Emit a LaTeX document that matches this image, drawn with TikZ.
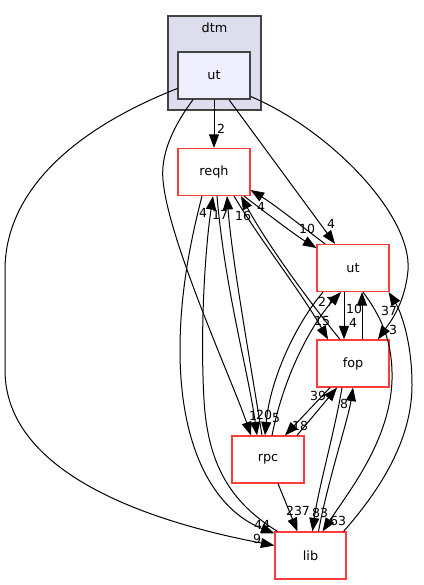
\documentclass[tikz,border=0pt]{standalone}
\usepackage{fontspec}
\setmainfont{DejaVu Sans}
\usetikzlibrary{arrows.meta}
\definecolor{dred}{RGB}{255,60,60}
\definecolor{clfill}{RGB}{221,221,238}
\definecolor{clline}{RGB}{68,68,68}
\definecolor{dirfill}{RGB}{238,238,255}
\begin{document}
\begin{tikzpicture}[x=1pt,y=-1pt,
  font=\fontsize{12.8}{15}\selectfont,
  dirnode/.style={draw=dred, line width=1.2pt, fill=white, minimum width=72pt, minimum height=47pt, inner sep=0pt},
  dep/.style={draw=black, line width=1pt, -{Triangle[length=13.5pt,width=10pt]}},
  elabel/.style={inner sep=0pt, font=\fontsize{12.5}{14}\selectfont}]
\useasboundingbox (0,0) rectangle (423,585);
% cluster
\node[draw=clline, fill=clfill, line width=1.4pt, minimum width=93pt, minimum height=94pt, inner sep=0pt] (dtm) at (214.5,63) {};
\node (dtmlabel) at (214.5,28) {dtm};
\node[draw=clline, fill=dirfill, line width=1.4pt, minimum width=72pt, minimum height=47pt, inner sep=0pt] (dut) at (214,75.5) {ut};
% nodes
\node[dirnode] (reqh) at (214,172) {reqh};
\node[dirnode] (ut) at (353,268) {ut};
\node[dirnode] (fop) at (353,363.5) {fop};
\node[dirnode] (rpc) at (268,459.5) {rpc};
\node[dirnode, minimum width=71pt] (lib) at (310.5,555.5) {lib};
% labels
\node[elabel] (l1) at (221,129) {2};
\node[elabel] (l2) at (331,224) {4};
\node[elabel] (l3) at (393,330) {3};
\node[elabel] (l4) at (253,416) {1};
\node[elabel] (l5) at (257,539) {9};
\node[elabel] (l6) at (307,229) {10};
\node[elabel] (l7) at (261,207) {4};
\node[elabel] (l8) at (322,321) {15};
\node[elabel] (l9) at (243,216) {16};
\node[elabel] (l10) at (220,215) {17};
\node[elabel] (l11) at (264,415) {20};
\node[elabel] (l12) at (203,213) {4};
\node[elabel] (l13) at (262,525) {44};
\node[elabel] (l14) at (276,418) {5};
\node[elabel] (l15) at (326,302) {27};
\node[elabel] (l16) at (353,323) {4};
\node[elabel] (l17) at (354,309) {10};
\node[elabel] (l18) at (338,521) {63};
\node[elabel] (l19) at (389,311) {37};
\node[elabel] (l20) at (300,426) {18};
\node[elabel] (l21) at (318,396) {39};
\node[elabel] (l22) at (320,513) {83};
\node[elabel] (l23) at (344,404) {8};
\node[elabel] (l24) at (298,511) {237};
% edges from dtm/ut
\draw[dep] (dut.south) -- (reqh.north);
\draw[dep] ([xshift=15pt]dut.south) -- ([xshift=-18pt]ut.north);
\draw[dep] ([yshift=-21pt]dut.east) .. controls (330,130) and (412,215) .. (408,270) .. controls (405,305) and (388,325) .. ([xshift=25pt]fop.north);
\draw[dep] ([xshift=-21pt]dut.south) .. controls (178,120) and (160,150) .. (163,180) .. controls (168,240) and (232,380) .. ([xshift=-17pt]rpc.north);
\draw[dep] ([yshift=-13pt]dut.west) .. controls (60,135) and (5,200) .. (5,270) -- (5,370) .. controls (5,470) and (140,520) .. ([yshift=10pt]lib.west);
% reqh <-> ut
\draw[dep] ([xshift=30pt]reqh.south) .. controls (265,212) and (295,235) .. ([yshift=20pt]ut.west);
\draw[dep] ([xshift=-28pt]ut.north) .. controls (300,225) and (275,205) .. ([yshift=-18pt]reqh.east);
% reqh <-> fop
\draw[dep] ([xshift=20pt]reqh.south) .. controls (260,240) and (300,290) .. ([xshift=-25pt]fop.north);
\draw[dep] ([xshift=-13pt]fop.north) .. controls (300,290) and (265,240) .. ([xshift=27pt]reqh.south);
% reqh <-> rpc
\draw[dep] ([xshift=-6pt]rpc.north) .. controls (250,360) and (232,260) .. ([xshift=13pt]reqh.south);
\draw[dep] ([xshift=3pt]reqh.south) .. controls (225,290) and (248,370) .. ([xshift=-11pt]rpc.north);
% reqh <-> lib
\draw[dep] ([xshift=-33pt]lib.north) .. controls (235,505) and (208,470) .. (204,400) .. controls (200,330) and (205,250) .. ([xshift=-1pt]reqh.south);
\draw[dep] ([xshift=-12pt]reqh.south) .. controls (188,250) and (180,300) .. (180,350) .. controls (180,450) and (215,510) .. ([yshift=-2pt]lib.north west);
% ut <-> rpc
\draw[dep] ([xshift=-30pt]ut.south) .. controls (295,325) and (270,380) .. ([xshift=-3pt]rpc.north);
\draw[dep] ([xshift=4pt]rpc.north) .. controls (285,370) and (315,320) .. ([xshift=-12pt]ut.south);
% ut <-> fop
\draw[dep] ([xshift=-9pt]ut.south) -- ([xshift=-9pt]fop.north);
\draw[dep] ([xshift=9pt]fop.north) -- ([xshift=9pt]ut.south);
% ut <-> lib
\draw[dep] ([xshift=10pt]ut.south) .. controls (380,315) and (393,340) .. (392,380) .. controls (390,440) and (350,490) .. ([xshift=12pt]lib.north);
\draw[dep] ([xshift=-3pt]lib.north east) .. controls (380,490) and (412,440) .. (412,385) .. controls (412,340) and (400,310) .. ([xshift=-1pt]ut.south east);
% fop <-> rpc
\draw[dep] ([xshift=-23pt]fop.south) -- ([xshift=17pt]rpc.north);
\draw[dep] ([xshift=29pt]rpc.north) -- ([xshift=-16pt]fop.south);
% fop <-> lib
\draw[dep] ([xshift=-11pt]fop.south) .. controls (335,430) and (318,490) .. ([xshift=2pt]lib.north);
\draw[dep] ([xshift=8pt]lib.north) .. controls (328,480) and (348,420) .. (fop.south);
% rpc -> lib
\draw[dep] ([xshift=10pt]rpc.south) -- ([xshift=-13pt]lib.north);
\end{tikzpicture}
\end{document}
